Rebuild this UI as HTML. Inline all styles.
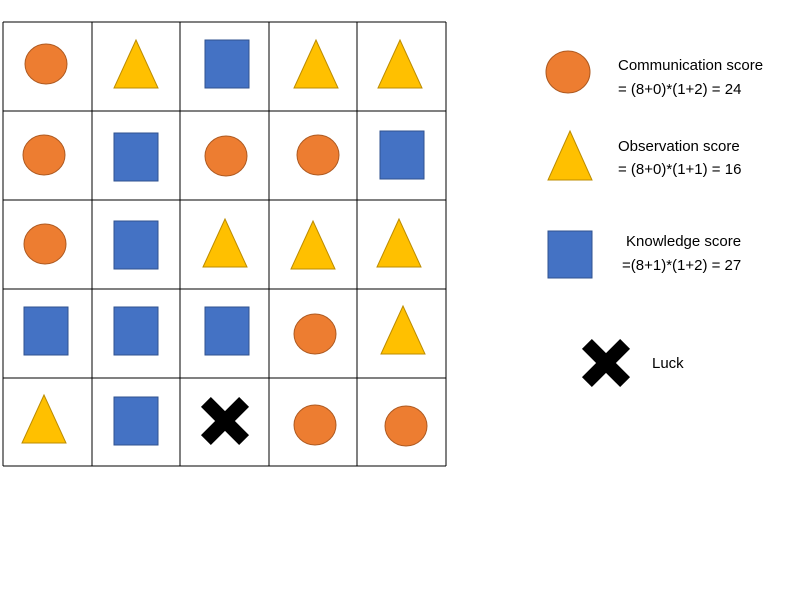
<!DOCTYPE html>
<html><head><meta charset="utf-8"><style>
body{margin:0;background:#fff;width:800px;height:600px;overflow:hidden}
svg text{font-family:"Liberation Sans",sans-serif;font-size:15px;fill:#000}
</style></head><body>
<svg width="800" height="600" id="s">
<g id="grid"></g>
<g id="shapes"></g>
<g id="legend">
  <ellipse cx="568" cy="72" rx="22" ry="21" fill="#ED7D31" stroke="#AE5A21"/>
  <text x="618" y="70">Communication score</text>
  <text x="618" y="94">= (8+0)*(1+2) = 24</text>
  <polygon points="570,131 592,180 548,180" fill="#FFC000" stroke="#BC8C00"/>
  <text x="618" y="151">Observation score</text>
  <text x="618" y="174">= (8+0)*(1+1) = 16</text>
  <rect x="548" y="231" width="44" height="47" fill="#4472C4" stroke="#2F528F"/>
  <text x="626" y="246">Knowledge score</text>
  <text x="622" y="270">=(8+1)*(1+2) = 27</text>
  <g transform="translate(606,363)">
    <rect x="-27" y="-7" width="54" height="14" transform="rotate(45)" fill="#000"/>
    <rect x="-27" y="-7" width="54" height="14" transform="rotate(-45)" fill="#000"/>
  </g>
  <text x="652" y="368">Luck</text>
</g>
</svg>
<script>
const types=[["c","t","s","t","t"],["c","s","c","c","s"],["c","s","t","t","t"],["s","s","s","c","t"],["t","s","x","c","c"]];
const centers=[[[46,64],[136,64],[227,64],[316,64],[400,64]],[[44,155],[136,157],[226,156],[318,155],[402,155]],[[45,244],[136,245],[225,243],[313,245],[399,243]],[[46,331],[136,331],[227,331],[315,334],[403,330]],[[44,419],[136,421],[225,421],[315,425],[406,426]]];
const NS="http://www.w3.org/2000/svg";
const xs=[3,92,180,269,357,446],ys=[22,111,200,289,378,466];
const g=document.getElementById('grid');
xs.forEach(x=>{const l=document.createElementNS(NS,'line');l.setAttribute('x1',x);l.setAttribute('x2',x);l.setAttribute('y1',22);l.setAttribute('y2',466);l.setAttribute('stroke','#000');l.setAttribute('stroke-width','1');


g.appendChild(l);});
ys.forEach(y=>{const l=document.createElementNS(NS,'line');l.setAttribute('y1',y);l.setAttribute('y2',y);l.setAttribute('x1',3);l.setAttribute('x2',446);l.setAttribute('stroke','#000');l.setAttribute('stroke-width','1');


g.appendChild(l);});
const sg=document.getElementById('shapes');
types.forEach((row,r)=>row.forEach((t,c)=>{
  const [cx,cy]=centers[r][c];let el;
  if(t=="c"){el=document.createElementNS(NS,'ellipse');el.setAttribute('cx',cx);el.setAttribute('cy',cy);el.setAttribute('rx',21);el.setAttribute('ry',20);el.setAttribute('fill','#ED7D31');el.setAttribute('stroke','#AE5A21');
    }
  else if(t=="t"){el=document.createElementNS(NS,'polygon');el.setAttribute('points',`${cx},${cy-24} ${cx+22},${cy+24} ${cx-22},${cy+24}`);el.setAttribute('fill','#FFC000');el.setAttribute('stroke','#BC8C00');
    }
  else if(t=="s"){el=document.createElementNS(NS,'rect');el.setAttribute('x',cx-22);el.setAttribute('y',cy-24);el.setAttribute('width',44);el.setAttribute('height',48);el.setAttribute('fill','#4472C4');el.setAttribute('stroke','#2F528F');
    }
  else {el=document.createElementNS(NS,'g');el.setAttribute('transform',`translate(${cx},${cy})`);
    el.innerHTML='<rect x="-27" y="-7" width="54" height="14" transform="rotate(45)" fill="#000"/><rect x="-27" y="-7" width="54" height="14" transform="rotate(-45)" fill="#000"/>';
    }
  
  sg.appendChild(el);
}));
</script>
</body></html>
